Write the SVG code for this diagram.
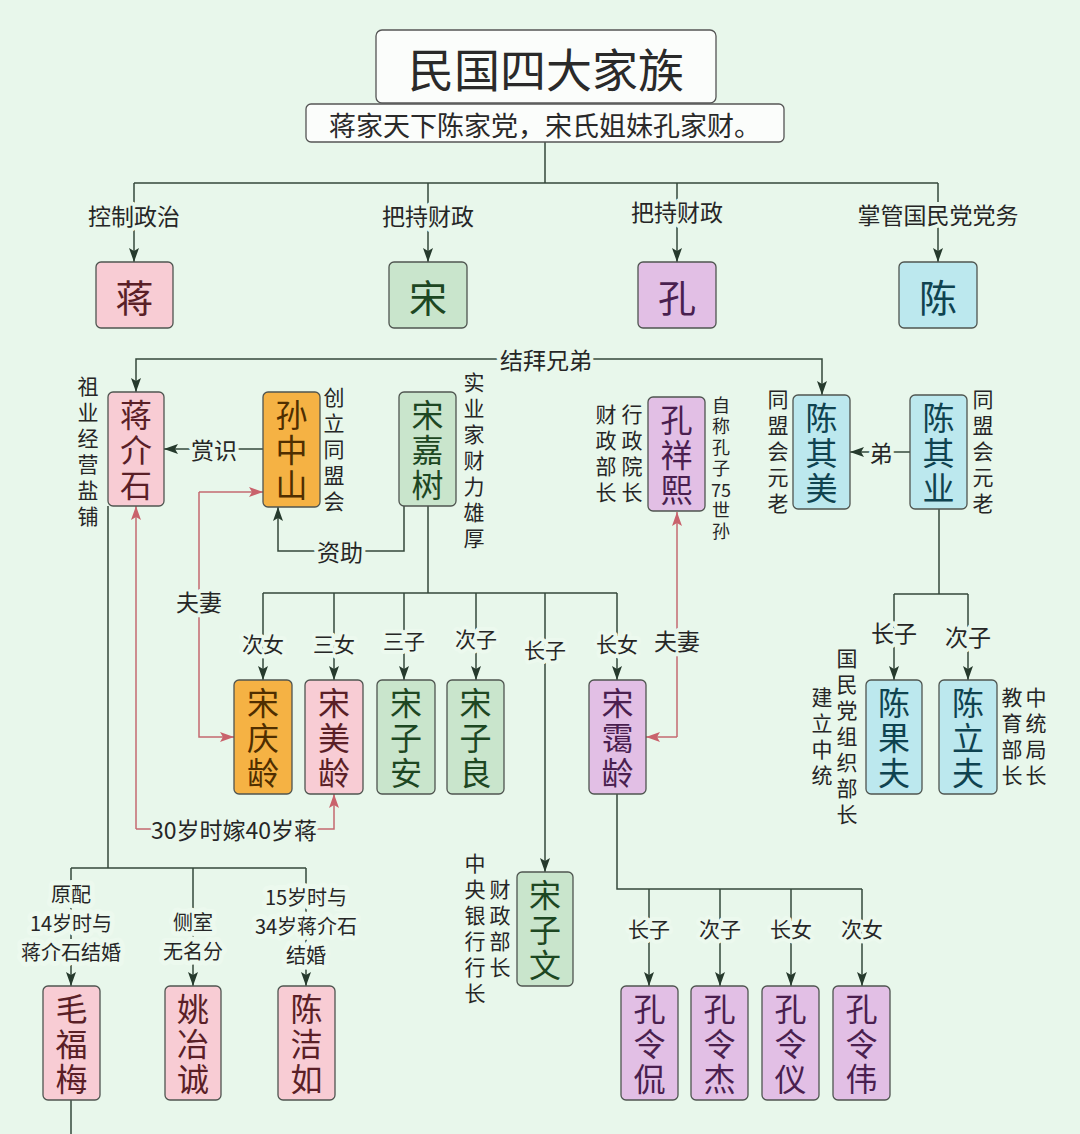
<svg xmlns="http://www.w3.org/2000/svg" width="1080" height="1134" viewBox="0 0 1080 1134">
<defs>
<style>
text{font-family:"Noto Sans CJK SC","Noto Sans",sans-serif;text-anchor:middle;dominant-baseline:central;fill:#262626}
.v{writing-mode:vertical-rl}
.ln{fill:none;stroke:#34483b;stroke-width:1.5}
.rd{fill:none;stroke:#c46a70;stroke-width:1.5}
.box{stroke:#4f5550;stroke-width:1.3}
.pink{fill:#f8ccd4}.green{fill:#c9e5cc}.purple{fill:#e2bfe5}.cyan{fill:#bce8ee}.orange{fill:#f5b244}
.tp{fill:#5a1f27}.tg{fill:#1d4722}.tu{fill:#4a1f50}.tc{fill:#0f4350}.to{fill:#4f2e00}
.big{font-size:38px}
.nm{font-size:32px;letter-spacing:3px}
.lb{font-size:23px;stroke:#e8f7eb;stroke-width:8;stroke-linejoin:round;paint-order:stroke}
.sl{font-size:21px;stroke:#ecf9ee;stroke-width:8;stroke-linejoin:round;paint-order:stroke}
.ml{font-size:20px;stroke:#ecf9ee;stroke-width:10;stroke-linejoin:round;paint-order:stroke}
.sd{font-size:21px;letter-spacing:5px}
.sm{font-size:18px;letter-spacing:3px}
</style>
<marker id="ar" viewBox="0 0 14 10" refX="14" refY="5" markerWidth="14" markerHeight="10" orient="auto" markerUnits="userSpaceOnUse"><path d="M0,0 L14,5 L0,10 L3,5 z" fill="#263a2d"/></marker>
<marker id="rr" viewBox="0 0 14 10" refX="14" refY="5" markerWidth="14" markerHeight="10" orient="auto" markerUnits="userSpaceOnUse"><path d="M0,0 L14,5 L0,10 L3,5 z" fill="#c9626c"/></marker>
</defs>
<rect width="1080" height="1134" fill="#e8f7eb"/>

<g id="connectors">
<path class="ln" d="M545,142 V183 M134,183 H938"/>
<path class="ln" marker-end="url(#ar)" d="M134,183 V262"/>
<path class="ln" marker-end="url(#ar)" d="M428,183 V262"/>
<path class="ln" marker-end="url(#ar)" d="M677,183 V262"/>
<path class="ln" marker-end="url(#ar)" d="M938,183 V262"/>
<path class="ln" marker-end="url(#ar)" d="M546,359 H136 V392"/>
<path class="ln" marker-end="url(#ar)" d="M546,359 H822 V395"/>
<path class="ln" marker-end="url(#ar)" d="M263,449 H164"/>
<path class="ln" marker-end="url(#ar)" d="M404,506 V551 H278 V507"/>
<path class="ln" d="M428,506 V593 M263,593 H617"/>
<path class="ln" marker-end="url(#ar)" d="M263,593 V680"/>
<path class="ln" marker-end="url(#ar)" d="M334,593 V680"/>
<path class="ln" marker-end="url(#ar)" d="M404,593 V680"/>
<path class="ln" marker-end="url(#ar)" d="M476,593 V680"/>
<path class="ln" marker-end="url(#ar)" d="M545,593 V872"/>
<path class="ln" marker-end="url(#ar)" d="M617,593 V680"/>
<path class="ln" marker-end="url(#ar)" d="M910,452 H850"/>
<path class="ln" d="M939,509 V594 M894,594 H968"/>
<path class="ln" marker-end="url(#ar)" d="M894,594 V680"/>
<path class="ln" marker-end="url(#ar)" d="M968,594 V680"/>
<path class="ln" d="M617,794 V889 H862"/>
<path class="ln" marker-end="url(#ar)" d="M649,889 V986"/>
<path class="ln" marker-end="url(#ar)" d="M720,889 V986"/>
<path class="ln" marker-end="url(#ar)" d="M791,889 V986"/>
<path class="ln" marker-end="url(#ar)" d="M862,889 V986"/>
<path class="ln" d="M108,506 V868 M71,868 H306"/>
<path class="ln" marker-end="url(#ar)" d="M71,868 V986"/>
<path class="ln" marker-end="url(#ar)" d="M193,868 V986"/>
<path class="ln" marker-end="url(#ar)" d="M306,868 V986"/>
<path class="ln" d="M71,1100 V1134"/>
<path class="rd" marker-end="url(#rr)" d="M199,492 H263"/>
<path class="rd" marker-end="url(#rr)" d="M199,492 V737 H234"/>
<path class="rd" marker-end="url(#rr)" d="M136,829 V506"/>
<path class="rd" marker-end="url(#rr)" d="M136,829 H334 V794"/>
<path class="rd" marker-end="url(#rr)" d="M677,737 V512"/>
<path class="rd" marker-end="url(#rr)" d="M677,737 H646"/>
<text class="lb" x="134" y="215">控制政治</text>
<text class="lb" x="428" y="215">把持财政</text>
<text class="lb" x="677" y="211">把持财政</text>
<text class="lb" x="938" y="214">掌管国民党党务</text>
<text class="lb" x="546" y="359">结拜兄弟</text>
<text class="lb" x="214" y="449">赏识</text>
<text class="lb" x="340" y="551">资助</text>
<text class="lb" x="199" y="601">夫妻</text>
<text class="lb" x="881" y="452">弟</text>
<text class="sl" x="263" y="643">次女</text>
<text class="sl" x="334" y="643">三女</text>
<text class="sl" x="404" y="640">三子</text>
<text class="sl" x="476" y="638">次子</text>
<text class="sl" x="545" y="649">长子</text>
<text class="sl" x="617" y="643">长女</text>
<text class="lb" x="677" y="640">夫妻</text>
<text class="lb" x="894" y="632">长子</text>
<text class="lb" x="968" y="636">次子</text>
<text class="lb" x="234" y="829">30岁时嫁40岁蒋</text>
<text class="ml" x="71" y="893">原配</text>
<text class="ml" x="71" y="922">14岁时与</text>
<text class="ml" x="71" y="951">蒋介石结婚</text>
<text class="ml" x="193" y="921">侧室</text>
<text class="ml" x="193" y="950">无名分</text>
<text class="ml" x="306" y="896">15岁时与</text>
<text class="ml" x="306" y="925">34岁蒋介石</text>
<text class="ml" x="306" y="954">结婚</text>
<text class="sl" x="649" y="928">长子</text>
<text class="sl" x="720" y="928">次子</text>
<text class="sl" x="791" y="928">长女</text>
<text class="sl" x="862" y="928">次女</text>
</g>

<g id="title">
<rect x="376" y="30" width="340" height="73" rx="6" fill="#fbfdfb" stroke="#555" stroke-width="1.3"/>
<text x="546" y="67" style="font-size:46px;fill:#2a2a2a">民国四大家族</text>
</g>
<g id="subtitle">
<rect x="306" y="104" width="478" height="38" rx="5" fill="#fbfdfb" stroke="#555" stroke-width="1.3"/>
<text x="545" y="124" style="font-size:27px;fill:#2a2a2a">蒋家天下陈家党，宋氏姐妹孔家财。</text>
</g>

<g id="n-jiang"><rect class="box pink" x="96" y="262" width="77" height="66" rx="5"/><text class="big tp" x="134.5" y="295">蒋</text></g>
<g id="n-song"><rect class="box green" x="389" y="262" width="78" height="66" rx="5"/><text class="big tg" x="428" y="295">宋</text></g>
<g id="n-kong"><rect class="box purple" x="638" y="262" width="78" height="66" rx="5"/><text class="big tu" x="677" y="295">孔</text></g>
<g id="n-chen"><rect class="box cyan" x="899" y="262" width="78" height="66" rx="5"/><text class="big tc" x="938" y="295">陈</text></g>

<g id="n-jiangjieshi"><rect class="box pink" x="108" y="392" width="56" height="114" rx="5"/>
<text class="v nm tp" x="136" y="451">蒋介石</text>
<text class="v sd" x="88" y="454">祖业经营盐铺</text></g>

<g id="n-sunzhongshan"><rect class="box orange" x="263" y="392" width="57" height="115" rx="5"/>
<text class="v nm to" x="291.5" y="451">孙中山</text>
<text class="v sd" x="334" y="452">创立同盟会</text></g>

<g id="n-songjiashu"><rect class="box green" x="399" y="392" width="57" height="114" rx="5"/>
<text class="v nm tg" x="427.5" y="451">宋嘉树</text>
<text class="v sd" x="474" y="463">实业家财力雄厚</text></g>

<g id="n-kongxiangxi"><rect class="box purple" x="648" y="397" width="57" height="114" rx="5"/>
<text class="v nm tu" x="676.5" y="456">孔祥熙</text>
<text class="v sd" x="632" y="456">行政院长</text>
<text class="v sd" x="606" y="456">财政部长</text>
<text class="v sm" x="721" y="438">自称孔子</text>
<text class="sm" x="721" y="489" style="letter-spacing:0">75</text>
<text class="v sm" x="721" y="522">世孙</text></g>

<g id="n-chenqimei"><rect class="box cyan" x="793" y="395" width="57" height="114" rx="5"/>
<text class="v nm tc" x="821.5" y="454">陈其美</text>
<text class="v sd" x="778" y="454">同盟会元老</text></g>

<g id="n-chenqiye"><rect class="box cyan" x="910" y="395" width="57" height="114" rx="5"/>
<text class="v nm tc" x="938.5" y="454">陈其业</text>
<text class="v sd" x="983" y="454">同盟会元老</text></g>

<g id="n-songqingling"><rect class="box orange" x="234" y="680" width="58" height="114" rx="5"/>
<text class="v nm to" x="263" y="739">宋庆龄</text></g>
<g id="n-songmeiling"><rect class="box pink" x="305" y="680" width="58" height="114" rx="5"/>
<text class="v nm tp" x="334" y="739">宋美龄</text></g>
<g id="n-songzian"><rect class="box green" x="377" y="680" width="58" height="114" rx="5"/>
<text class="v nm tg" x="406" y="739">宋子安</text></g>
<g id="n-songziliang"><rect class="box green" x="447" y="680" width="57" height="114" rx="5"/>
<text class="v nm tg" x="475.5" y="739">宋子良</text></g>
<g id="n-songailing"><rect class="box purple" x="589" y="680" width="57" height="114" rx="5"/>
<text class="v nm tu" x="617.5" y="739">宋霭龄</text></g>

<g id="n-chenguofu"><rect class="box cyan" x="866" y="680" width="56" height="114" rx="5"/>
<text class="v nm tc" x="894" y="739">陈果夫</text>
<text class="v sd" x="847" y="739">国民党组织部长</text>
<text class="v sd" x="822" y="739">建立中统</text></g>

<g id="n-chenlifu"><rect class="box cyan" x="939" y="680" width="58" height="114" rx="5"/>
<text class="v nm tc" x="968" y="739">陈立夫</text>
<text class="v sd" x="1036" y="739">中统局长</text>
<text class="v sd" x="1012" y="739">教育部长</text></g>

<g id="n-songziwen"><rect class="box green" x="517" y="872" width="56" height="114" rx="5"/>
<text class="v nm tg" x="545" y="931">宋子文</text>
<text class="v sd" x="500" y="931">财政部长</text>
<text class="v sd" x="475" y="931">中央银行行长</text></g>

<g id="n-maofumei"><rect class="box pink" x="43" y="986" width="57" height="114" rx="5"/>
<text class="v nm tp" x="71.5" y="1045">毛福梅</text></g>
<g id="n-yaoyecheng"><rect class="box pink" x="165" y="986" width="56" height="114" rx="5"/>
<text class="v nm tp" x="193" y="1045">姚冶诚</text></g>
<g id="n-chenjieru"><rect class="box pink" x="278" y="986" width="57" height="114" rx="5"/>
<text class="v nm tp" x="306.5" y="1045">陈洁如</text></g>

<g id="n-konglingkan"><rect class="box purple" x="621" y="986" width="57" height="114" rx="5"/>
<text class="v nm tu" x="649.5" y="1045">孔令侃</text></g>
<g id="n-konglingjie"><rect class="box purple" x="691" y="986" width="57" height="114" rx="5"/>
<text class="v nm tu" x="719.5" y="1045">孔令杰</text></g>
<g id="n-konglingyi"><rect class="box purple" x="762" y="986" width="57" height="114" rx="5"/>
<text class="v nm tu" x="790.5" y="1045">孔令仪</text></g>
<g id="n-konglingwei"><rect class="box purple" x="833" y="986" width="57" height="114" rx="5"/>
<text class="v nm tu" x="861.5" y="1045">孔令伟</text></g>
</svg>
